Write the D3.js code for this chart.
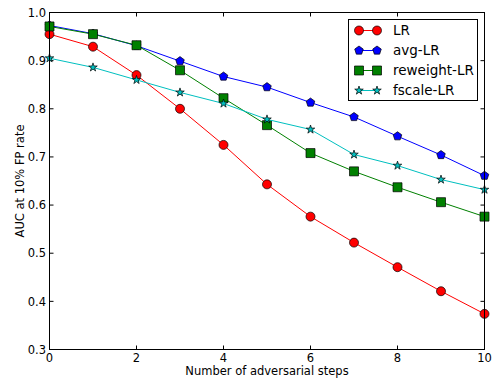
<!DOCTYPE html>
<html>
<head>
<meta charset="utf-8">
<script src="https://cdn.jsdelivr.net/npm/d3@7"></script>
<style>
  html, body { margin: 0; padding: 0; background: #fff; }
  svg text { font-family: "DejaVu Sans", sans-serif; fill: #000; }
</style>
</head>
<body>
<svg id="chart" width="495" height="386"></svg>
<script>
// Number of adversarial steps
const steps = [0, 1, 2, 3, 4, 5, 6, 7, 8, 9, 10];

// AUC at 10% FP rate for each classifier
const lrValues       = [0.955, 0.929, 0.870, 0.800, 0.725, 0.643, 0.576, 0.522, 0.471, 0.421, 0.374];
const avgLrValues    = [0.973, 0.956, 0.931, 0.899, 0.867, 0.845, 0.813, 0.783, 0.743, 0.704, 0.661];
const reweightValues = [0.971, 0.955, 0.932, 0.880, 0.822, 0.766, 0.708, 0.670, 0.637, 0.606, 0.576];
const fscaleValues   = [0.905, 0.886, 0.860, 0.834, 0.811, 0.778, 0.757, 0.705, 0.682, 0.653, 0.632];

const seriesNames  = ["LR", "avg-LR", "reweight-LR", "fscale-LR"];
const seriesColors = ["#ff0000", "#0000ff", "#008000", "#00bfbf"];
const seriesShapes = ["circle", "pentagon", "square", "star"];
const seriesValues = [lrValues, avgLrValues, reweightValues, fscaleValues];

const xTicks = [0, 2, 4, 6, 8, 10];
const yTicks = [0.3, 0.4, 0.5, 0.6, 0.7, 0.8, 0.9, 1.0];

const svg = d3.select("#chart");
const plot = { left: 49.5, right: 484.5, top: 12.5, bottom: 349.5 };

const x = d3.scaleLinear().domain([0, 10]).range([plot.left, plot.right]);
const y = d3.scaleLinear().domain([0.3, 1.0]).range([plot.bottom, plot.top]);

// marker outline generators (size = marker diameter in px)
const ms = 9;
function polygonPath(pts) { return d3.line()(pts) + "Z"; }
function markerPath(shape) {
  const r = ms / 2;
  if (shape === "circle") return d3.symbol(d3.symbolCircle, Math.PI * r * r)();
  if (shape === "square") return d3.symbol(d3.symbolSquare, ms * ms)();
  if (shape === "pentagon") {
    const pts = d3.range(5).map(i => {
      const a = -Math.PI / 2 + i * 2 * Math.PI / 5;
      return [r * Math.cos(a), r * Math.sin(a)];
    });
    return polygonPath(pts);
  }
  if (shape === "star") {
    const inner = r * 0.381966;
    const pts = d3.range(10).map(i => {
      const a = -Math.PI / 2 + i * Math.PI / 5;
      const rr = i % 2 === 0 ? r : inner;
      return [rr * Math.cos(a), rr * Math.sin(a)];
    });
    return polygonPath(pts);
  }
}

// axes frame ticks (inward, on all four sides)
const tickLen = 4;
const axes = svg.append("g");
xTicks.forEach(t => {
  const px = Math.round(x(t)) + 0.5 - 0.5;
  axes.append("line").attr("x1", x(t)).attr("x2", x(t))
    .attr("y1", plot.bottom).attr("y2", plot.bottom - tickLen)
    .attr("stroke", "#000").attr("stroke-width", 1);
  axes.append("line").attr("x1", x(t)).attr("x2", x(t))
    .attr("y1", plot.top).attr("y2", plot.top + tickLen)
    .attr("stroke", "#000").attr("stroke-width", 1);
  axes.append("text").attr("x", x(t)).attr("y", 362)
    .attr("text-anchor", "middle").attr("font-size", 11.5).text(d3.format("d")(t));
});
yTicks.forEach(t => {
  axes.append("line").attr("x1", plot.left).attr("x2", plot.left + tickLen)
    .attr("y1", y(t)).attr("y2", y(t))
    .attr("stroke", "#000").attr("stroke-width", 1);
  axes.append("line").attr("x1", plot.right).attr("x2", plot.right - tickLen)
    .attr("y1", y(t)).attr("y2", y(t))
    .attr("stroke", "#000").attr("stroke-width", 1);
  axes.append("text").attr("x", 46).attr("y", y(t) + 4.2)
    .attr("text-anchor", "end").attr("font-size", 11.5).text(d3.format(".1f")(t));
});

// data series: line then markers, in plotting order
const lineGen = d3.line().x((d, i) => x(steps[i])).y(d => y(d));
seriesValues.forEach((vals, k) => {
  const g = svg.append("g");
  g.append("path").datum(vals)
    .attr("d", lineGen)
    .attr("fill", "none")
    .attr("stroke", seriesColors[k])
    .attr("stroke-width", 1);
  g.selectAll("path.m").data(vals).enter().append("path")
    .attr("class", "m")
    .attr("d", markerPath(seriesShapes[k]))
    .attr("transform", (d, i) => `translate(${x(steps[i])},${y(d)})`)
    .attr("fill", seriesColors[k])
    .attr("stroke", "#000")
    .attr("stroke-width", 0.7);
});

// frame on top
svg.append("rect")
  .attr("x", plot.left).attr("y", plot.top)
  .attr("width", plot.right - plot.left).attr("height", plot.bottom - plot.top)
  .attr("fill", "none").attr("stroke", "#000").attr("stroke-width", 1);

// axis labels
svg.append("text").attr("x", (plot.left + plot.right) / 2).attr("y", 375)
  .attr("text-anchor", "middle").attr("font-size", 11.5)
  .text("Number of adversarial steps");
svg.append("text")
  .attr("transform", `translate(24,${(plot.top + plot.bottom) / 2}) rotate(-90)`)
  .attr("text-anchor", "middle").attr("font-size", 11.5)
  .text("AUC at 10% FP rate");

// legend
const legend = svg.append("g");
legend.append("rect")
  .attr("x", 348.5).attr("y", 19.5).attr("width", 129).attr("height", 81)
  .attr("fill", "#fff").attr("stroke", "#000").attr("stroke-width", 1);
seriesNames.forEach((name, k) => {
  const ly = 30.5 + k * 20;
  legend.append("line").attr("x1", 359).attr("x2", 377)
    .attr("y1", ly).attr("y2", ly)
    .attr("stroke", seriesColors[k]).attr("stroke-width", 1);
  [359, 377].forEach(lx => {
    legend.append("path").attr("d", markerPath(seriesShapes[k]))
      .attr("transform", `translate(${lx},${ly})`)
      .attr("fill", seriesColors[k]).attr("stroke", "#000").attr("stroke-width", 0.7);
  });
  legend.append("text").attr("x", 393).attr("y", ly + 4.8)
    .attr("font-size", 13.5).text(name);
});
</script>
</body>
</html>
